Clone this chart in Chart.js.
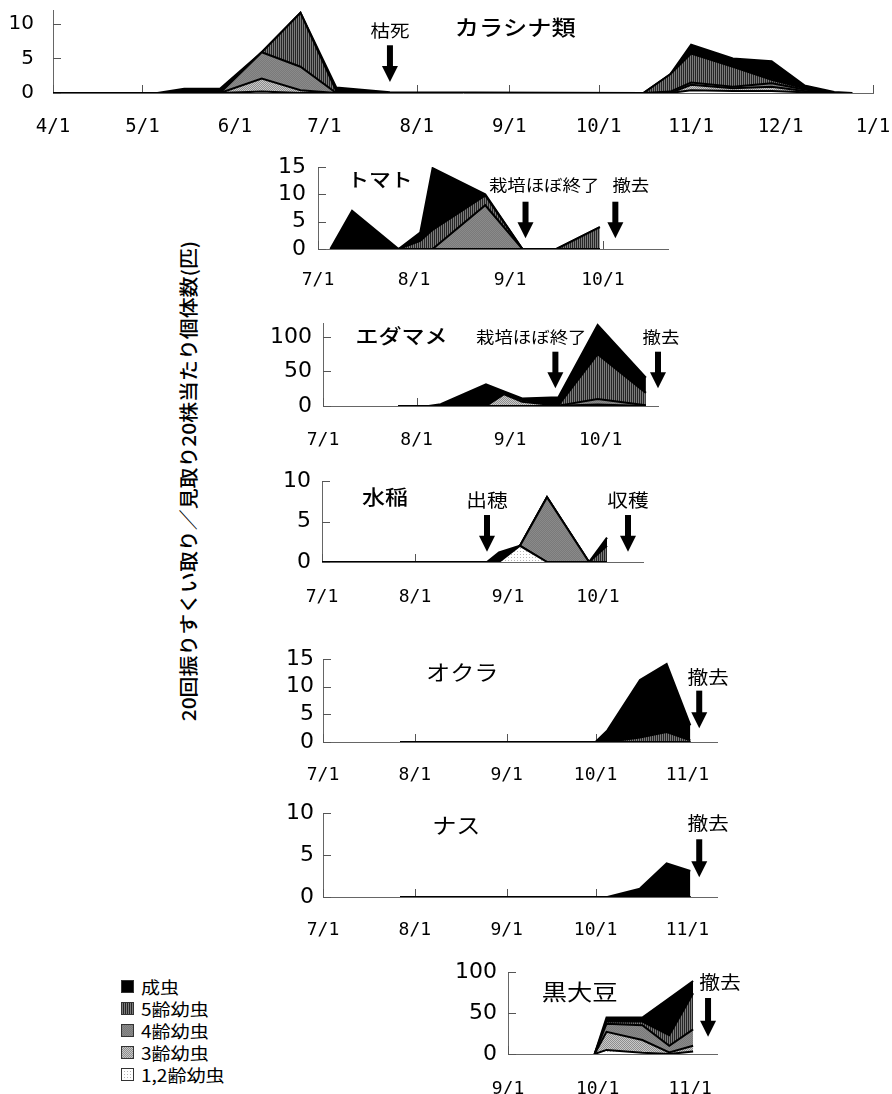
<!DOCTYPE html>
<html>
<head>
<meta charset="utf-8">
<script src="https://cdn.jsdelivr.net/npm/chart.js@4/dist/chart.umd.min.js"></script>
<style>
  html, body { margin: 0; padding: 0; background: #fff; }
  body { width: 892px; height: 1094px; position: relative; overflow: hidden;
         font-family: "Noto Sans CJK JP", sans-serif; color: #000; }
  canvas.panel { position: absolute; }
  #ytitle { position: absolute; left: 187px; top: 481px; white-space: nowrap; font-weight: 500;
            font-size: 19px; transform: translate(-50%, -50%) rotate(-90deg) scaleX(1.1); }
  #legend { position: absolute; left: 121px; top: 975px; font-size: 17px; }
  #legend .row { display: flex; align-items: center; height: 22px; }
  #legend canvas { display: block; margin-right: 7px; }
  #legend span { display: inline-block; transform: scaleX(1.12); transform-origin: left center; }
</style>
</head>
<body>
<div id="ytitle">20回振りすくい取り／見取り20株当たり個体数(匹)</div>
<div id="legend"></div>
<script>
// ---- stages (stacking order: bottom to top) ----
const stageNames = ['1,2齢幼虫', '3齢幼虫', '4齢幼虫', '5齢幼虫', '成虫'];

// ---- カラシナ類 (4/1 - 1/1) ----
const karashinaDates = ['4/1','5/6','5/15','5/27','6/10','6/23','7/5','7/23','10/16','10/25','11/1','11/15','11/28','12/9','12/19','12/25'];
const karashinaL12   = [0, 0, 0,   0,   0.2, 0,   0,   0,   0, 0,   0.4, 0.3, 0.3, 0.1, 0,    0];
const karashinaL3    = [0, 0, 0,   0,   1.9, 0.4, 0,   0,   0, 0,   0.8, 0.4, 0.6, 0.2, 0,    0];
const karashinaL4    = [0, 0, 0,   0,   3.8, 3.4, 0,   0,   0, 0.2, 0.3, 0.2, 0.5, 0.2, 0,    0];
const karashinaL5    = [0, 0, 0,   0,   0,   7.8, 0.3, 0,   0, 2.5, 4.2, 2.9, 0.5, 0.2, 0,    0];
const karashinaAdult = [0, 0, 0.6, 0.6, 0,   0,   0.5, 0.1, 0, 0,   1.3, 1.2, 2.7, 0.4, 0.15, 0];
const karashinaTicks = ['4/1','5/1','6/1','7/1','8/1','9/1','10/1','11/1','12/1','1/1'];
const karashinaYTicks = [0, 5, 10];

// ---- トマト ----
const tomatoDates = ['7/5','7/12','7/27','8/3','8/7','8/24','9/5','9/16','9/30'];
const tomatoL12   = [0, 0, 0, 0,   0,    0,   0, 0, 0];
const tomatoL3    = [0, 0, 0, 0,   0,    0,   0, 0, 0];
const tomatoL4    = [0, 0, 0, 0,   0,    8,   0, 0, 0];
const tomatoL5    = [0, 0, 0, 1.5, 3.5,  1.8, 0, 0, 4];
const tomatoAdult = [0, 7, 0, 1.5, 11.3, 0.2, 0, 0, 0];
const tomatoTicks = ['7/1','8/1','9/1','10/1'];
const tomatoYTicks = [0, 5, 10, 15];

// ---- エダマメ ----
const edamameDates = ['7/26','8/5','8/9','8/24','8/30','9/5','9/17','9/30','10/16'];
const edamameL12   = [0, 0, 0,   0,   0,   0,   0,    0,  0];
const edamameL3    = [0, 0, 0,   0,   17,  6,   0.5,  2,  0];
const edamameL4    = [0, 0, 0,   0,   1.5, 2.5, 0,    8,  1];
const edamameL5    = [0, 0, 0,   1.5, 0,   0,   0.5,  65, 18];
const edamameAdult = [0, 0, 2.5, 30,  2.5, 2.5, 11.6, 42, 22];
const edamameTicks = ['7/1','8/1','9/1','10/1'];
const edamameYTicks = [0, 50, 100];

// ---- 水稲 ----
const riceDates = ['7/1','8/25','8/29','9/5','9/14','9/28','10/4'];
const riceL12   = [0, 0, 0,   2, 0, 0, 0];
const riceL3    = [0, 0, 0,   0, 0, 0, 0];
const riceL4    = [0, 0, 0,   0, 8, 0, 0];
const riceL5    = [0, 0, 0,   0, 0, 0, 2];
const riceAdult = [0, 0, 1.2, 0, 0, 0, 1];
const riceTicks = ['7/1','8/1','9/1','10/1'];
const riceYTicks = [0, 5, 10];

// ---- オクラ ----
const okraDates = ['7/27','10/1','10/5','10/16','10/25','11/2'];
const okraL12   = [0, 0, 0,   0,    0,    0];
const okraL3    = [0, 0, 0,   0,    0,    0];
const okraL4    = [0, 0, 0,   0,    0,    0];
const okraL5    = [0, 0, 0,   0.8,  1.8,  0.3];
const okraAdult = [0, 0, 2.1, 10.4, 12.3, 2.7];
const okraTicks = ['7/1','8/1','9/1','10/1','11/1'];
const okraYTicks = [0, 5, 10, 15];

// ---- ナス ----
const eggplantDates = ['7/27','10/5','10/16','10/25','11/2'];
const eggplantL12   = [0, 0, 0, 0, 0];
const eggplantL3    = [0, 0, 0, 0, 0];
const eggplantL4    = [0, 0, 0, 0, 0];
const eggplantL5    = [0, 0, 0, 0, 0];
const eggplantAdult = [0, 0, 1, 4, 3.1];
const eggplantTicks = ['7/1','8/1','9/1','10/1','11/1'];
const eggplantYTicks = [0, 5, 10];

// ---- 黒大豆 ----
const kuromameDates = ['9/30','10/4','10/16','10/25','11/2'];
const kuromameL12   = [0, 5,   1.5,  0,  3];
const kuromameL3    = [0, 22,  15.5, 2,  7];
const kuromameL4    = [0, 10,  18,   8,  20];
const kuromameL5    = [0, 3,   4.5,  13, 44];
const kuromameAdult = [0, 4.5, 5,    45, 15];
const kuromameTicks = ['9/1','10/1','11/1'];
const kuromameYTicks = [0, 50, 100];

// ---- calendar helpers ----
const cumDays = [0,31,59,90,120,151,181,212,243,273,304,334];
function dayOfYear(md) { const [m, d] = md.split('/').map(Number); return cumDays[m - 1] + d - 1; }
function dayOffset(md, origin) { let v = dayOfYear(md) - dayOfYear(origin); if (v < 0) v += 365; return v; }

// ---- fills ----
function tile(w, h, draw) {
  const c = document.createElement('canvas'); c.width = w; c.height = h;
  draw(c.getContext('2d')); return c;
}
const patCtx = document.createElement('canvas').getContext('2d');
const fillL12 = patCtx.createPattern(tile(3, 3, g => {
  g.fillStyle = '#ffffff'; g.fillRect(0, 0, 3, 3);
  g.fillStyle = '#b4b4b4'; g.fillRect(0, 0, 1, 1);
}), 'repeat');
const fillL3 = patCtx.createPattern(tile(2, 2, g => {
  g.fillStyle = '#c8c8c8'; g.fillRect(0, 0, 2, 2);
  g.fillStyle = '#8e8e8e'; g.fillRect(0, 0, 1, 1); g.fillRect(1, 1, 1, 1);
}), 'repeat');
const fillL4 = patCtx.createPattern(tile(2, 2, g => {
  g.fillStyle = '#8a8a8a'; g.fillRect(0, 0, 2, 2);
  g.fillStyle = '#7a7a7a'; g.fillRect(0, 0, 1, 1); g.fillRect(1, 1, 1, 1);
}), 'repeat');
const fillL5 = patCtx.createPattern(tile(2, 1, g => {
  g.fillStyle = '#7c7c7c'; g.fillRect(0, 0, 2, 1);
  g.fillStyle = '#262626'; g.fillRect(0, 0, 1, 1);
}), 'repeat');
const fillAdult = '#000000';
const stageFills = [fillL12, fillL3, fillL4, fillL5, fillAdult];

// ---- inward tick marks ----
const innerTicks = {
  id: 'innerTicks',
  beforeDatasetsDraw(chart) {
    const { ctx, chartArea: a, scales: { x, y } } = chart;
    ctx.save();
    ctx.strokeStyle = '#555'; ctx.lineWidth = 1;
    ctx.beginPath();
    x.ticks.forEach(t => {
      const px = Math.round(x.getPixelForValue(t.value)) + 0.5;
      ctx.moveTo(px, a.bottom); ctx.lineTo(px, a.bottom - 8);
    });
    y.ticks.forEach(t => {
      const py = Math.round(y.getPixelForValue(t.value)) + 0.5;
      ctx.moveTo(a.left, py); ctx.lineTo(a.left + 8, py);
    });
    ctx.stroke();
    ctx.restore();
  }
};

// ---- titles, remarks and arrows ----
const TEXT_STRETCH = 1.15;
const notes = {
  id: 'notes',
  afterDatasetsDraw(chart, args, opts) {
    const { ctx, scales: { x, y } } = chart;
    const origin = opts.origin;
    ctx.save();
    ctx.fillStyle = '#000';
    (opts.texts || []).forEach(n => {
      const px = x.getPixelForValue(dayOffset(n.at, origin));
      const py = y.getPixelForValue(n.y);
      ctx.save();
      ctx.translate(px, py);
      ctx.scale(TEXT_STRETCH, 1);
      ctx.font = (n.weight || 'normal') + ' ' + n.size + 'px "Noto Sans CJK JP", sans-serif';
      ctx.textAlign = 'center';
      ctx.textBaseline = 'middle';
      ctx.fillText(n.text, 0, 0);
      ctx.restore();
    });
    (opts.arrows || []).forEach(a => {
      const px = x.getPixelForValue(dayOffset(a.at, origin));
      const top = y.getPixelForValue(a.from);
      const tip = y.getPixelForValue(a.to);
      const shaft = 6, headW = 16, headH = 16;
      ctx.fillRect(px - shaft / 2, top, shaft, tip - headH - top + 1);
      ctx.beginPath();
      ctx.moveTo(px - headW / 2, tip - headH);
      ctx.lineTo(px + headW / 2, tip - headH);
      ctx.lineTo(px, tip);
      ctx.closePath();
      ctx.fill();
    });
    ctx.restore();
  }
};

// ---- panels ----
const panels = [
  { origin: '4/1', end: '1/1', box: { l: 53, t: 10, r: 873, b: 93 }, pad: { t: 10, r: 19 }, ymax: 12,
    dates: karashinaDates, layers: [karashinaL12, karashinaL3, karashinaL4, karashinaL5, karashinaAdult],
    xLabels: karashinaTicks, yTicks: karashinaYTicks, xFont: 19, xPad: 25, yFont: 20, yPad: 19,
    texts: [ { text: 'カラシナ類', at: '9/3', y: 9.6, size: 21, weight: 500 }, { text: '枯死', at: '7/23', y: 9.0, size: 17 } ],
    arrows: [ { at: '7/23', from: 6.9, to: 1.6 } ] },
  { origin: '7/1', end: '10/22', box: { l: 318, t: 167, r: 668, b: 249 }, ymax: 15,
    dates: tomatoDates, layers: [tomatoL12, tomatoL3, tomatoL4, tomatoL5, tomatoAdult],
    xLabels: tomatoTicks, yTicks: tomatoYTicks, xFont: 18, xPad: 22, yFont: 22, yPad: 12,
    texts: [ { text: 'トマト', at: '7/21', y: 12.6, size: 19, weight: 500 },
             { text: '栽培ほぼ終了', at: '9/12', y: 11.7, size: 16 },
             { text: '撤去', at: '10/10', y: 11.7, size: 16 } ],
    arrows: [ { at: '9/6', from: 8.65, to: 1.96 }, { at: '10/5', from: 8.65, to: 1.96 } ] },
  { origin: '7/1', end: '10/20', box: { l: 323, t: 323, r: 658, b: 406 }, ymax: 120,
    dates: edamameDates, layers: [edamameL12, edamameL3, edamameL4, edamameL5, edamameAdult],
    xLabels: edamameTicks, yTicks: edamameYTicks, xFont: 18, xPad: 25, yFont: 22, yPad: 11,
    texts: [ { text: 'エダマメ', at: '7/27', y: 101, size: 20, weight: 500 },
             { text: '栽培ほぼ終了', at: '9/8', y: 100, size: 16 },
             { text: '撤去', at: '10/21', y: 100, size: 16 } ],
    arrows: [ { at: '9/16', from: 78.5, to: 25.6 }, { at: '10/20', from: 78.5, to: 25.6 } ] },
  { origin: '7/1', end: '10/16', box: { l: 322, t: 481, r: 643, b: 562 }, ymax: 10,
    dates: riceDates, layers: [riceL12, riceL3, riceL4, riceL5, riceAdult],
    xLabels: riceTicks, yTicks: riceYTicks, xFont: 18, xPad: 26, yFont: 22, yPad: 11,
    texts: [ { text: '水稲', at: '7/22', y: 8.0, size: 20, weight: 500 },
             { text: '出穂', at: '8/25', y: 7.65, size: 18 },
             { text: '収穫', at: '10/11', y: 7.65, size: 18 } ],
    arrows: [ { at: '8/25', from: 5.8, to: 1.27 }, { at: '10/11', from: 5.8, to: 1.27 } ] },
  { origin: '7/1', end: '11/11', box: { l: 323, t: 659, r: 717, b: 742 }, ymax: 15,
    dates: okraDates, layers: [okraL12, okraL3, okraL4, okraL5, okraAdult],
    xLabels: okraTicks, yTicks: okraYTicks, xFont: 18, xPad: 24, yFont: 22, yPad: 9,
    texts: [ { text: 'オクラ', at: '8/17', y: 12.6, size: 21 },
             { text: '撤去', at: '11/8', y: 11.8, size: 18 } ],
    arrows: [ { at: '11/5', from: 9.28, to: 2.48 } ] },
  { origin: '7/1', end: '11/11', box: { l: 323, t: 813, r: 717, b: 897 }, ymax: 10,
    dates: eggplantDates, layers: [eggplantL12, eggplantL3, eggplantL4, eggplantL5, eggplantAdult],
    xLabels: eggplantTicks, yTicks: eggplantYTicks, xFont: 18, xPad: 24, yFont: 22, yPad: 9,
    texts: [ { text: 'ナス', at: '8/15', y: 8.57, size: 21 },
             { text: '撤去', at: '11/8', y: 8.77, size: 18 } ],
    arrows: [ { at: '11/5', from: 6.87, to: 2.35 } ] },
  { origin: '9/1', end: '11/10', box: { l: 508, t: 972, r: 717, b: 1054 }, ymax: 100,
    dates: kuromameDates, layers: [kuromameL12, kuromameL3, kuromameL4, kuromameL5, kuromameAdult],
    xLabels: kuromameTicks, yTicks: kuromameYTicks, xFont: 18, xPad: 26, yFont: 22, yPad: 11,
    texts: [ { text: '黒大豆', at: '9/25', y: 76, size: 22 },
             { text: '撤去', at: '11/11', y: 88, size: 18 } ],
    arrows: [ { at: '11/7', from: 68.3, to: 21 } ] }
];

const PAD_L = 60, PAD_R = 44, PAD_T = 20, PAD_B = 48;

function buildPanel(p) {
  const padT = (p.pad && p.pad.t) || PAD_T;
  const padR = (p.pad && p.pad.r) || PAD_R;
  const cv = document.createElement('canvas');
  cv.className = 'panel';
  cv.width = p.box.r - p.box.l + PAD_L + padR;
  cv.height = p.box.b - p.box.t + padT + PAD_B;
  cv.style.left = (p.box.l - PAD_L) + 'px';
  cv.style.top = (p.box.t - padT) + 'px';
  document.body.appendChild(cv);

  const xs = p.dates.map(d => dayOffset(d, p.origin));
  const tickVals = p.xLabels.map(d => dayOffset(d, p.origin));
  const datasets = p.layers.map((vals, i) => ({
    label: stageNames[i],
    data: vals.map((v, j) => ({ x: xs[j], y: v })),
    backgroundColor: stageFills[i],
    borderColor: '#000',
    borderWidth: 2,
    pointRadius: 0,
    tension: 0,
    fill: i === 0 ? 'origin' : '-1'
  }));

  new Chart(cv, {
    type: 'line',
    data: { datasets },
    options: {
      responsive: false,
      animation: false,
      devicePixelRatio: 1,
      events: [],
      layout: { autoPadding: false, padding: { top: padT, right: padR, left: 0, bottom: 0 } },
      plugins: {
        legend: { display: false },
        tooltip: { enabled: false },
        notes: { origin: p.origin, texts: p.texts, arrows: p.arrows }
      },
      scales: {
        x: {
          type: 'linear',
          bounds: 'data',
          min: 0,
          max: dayOffset(p.end, p.origin),
          grid: { display: false, drawTicks: false },
          border: { display: true, color: '#666', width: 1 },
          afterBuildTicks: s => { s.ticks = tickVals.map(v => ({ value: v })); },
          afterFit: s => { s.height = PAD_B; s.paddingLeft = 0; s.paddingRight = 0; },
          ticks: {
            autoSkip: false, maxRotation: 0, minRotation: 0,
            padding: p.xPad, color: '#000',
            font: { family: '"DejaVu Sans Mono", monospace', size: p.xFont, lineHeight: 1 },
            callback: (v, i) => p.xLabels[i]
          }
        },
        y: {
          stacked: true,
          bounds: 'data',
          min: 0,
          max: p.ymax,
          grid: { display: false, drawTicks: false },
          border: { display: true, color: '#666', width: 1 },
          afterBuildTicks: s => { s.ticks = p.yTicks.map(v => ({ value: v })); },
          afterFit: s => { s.width = PAD_L; s.paddingTop = 0; s.paddingBottom = 0; },
          ticks: {
            padding: p.yPad, color: '#000',
            font: { family: '"DejaVu Sans", sans-serif', size: p.yFont, lineHeight: 1 }
          }
        }
      }
    },
    plugins: [innerTicks, notes]
  });
}

panels.forEach(buildPanel);

// ---- legend (top row is the top layer) ----
const legendEl = document.getElementById('legend');
for (let i = stageNames.length - 1; i >= 0; i--) {
  const row = document.createElement('div'); row.className = 'row';
  const sw = document.createElement('canvas'); sw.width = 13; sw.height = 13;
  const g = sw.getContext('2d');
  g.fillStyle = stageFills[i]; g.fillRect(0, 0, 13, 13);
  g.strokeStyle = '#333'; g.lineWidth = 1; g.strokeRect(0.5, 0.5, 12, 12);
  const label = document.createElement('span'); label.textContent = stageNames[i];
  row.appendChild(sw); row.appendChild(label);
  legendEl.appendChild(row);
}
</script>
</body>
</html>
